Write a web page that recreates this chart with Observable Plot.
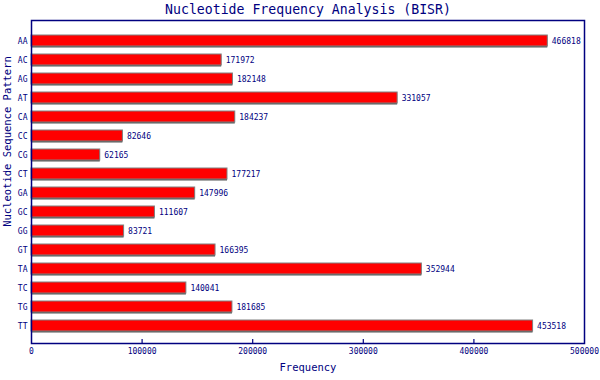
<!DOCTYPE html>
<html>
<head>
<meta charset="utf-8">
<script src="https://cdn.jsdelivr.net/npm/d3@7"></script>
<script src="https://cdn.jsdelivr.net/npm/@observablehq/plot@0.6"></script>
<style>
  html, body { margin: 0; padding: 0; background: #ffffff; }
</style>
</head>
<body>
<div id="chart"></div>
<script>
const patterns = ["AA","AC","AG","AT","CA","CC","CG","CT","GA","GC","GG","GT","TA","TC","TG","TT"];
const counts = [466818,171972,182148,331057,184237,82646,62165,177217,147996,111607,83721,166395,352944,140041,181685,453518];
const xTicks = [0,100000,200000,300000,400000,500000];
const innerTicks = [100000,200000,300000,400000];
const titleText = "Nucleotide Frequency Analysis (BISR)";
const xLabel = "Frequency";
const yLabel = "Nucleotide Sequence Pattern";

const data = patterns.map((p, i) => ({pattern: p, count: counts[i]}));
const navy = "#000080";
const mono = "'DejaVu Sans Mono', 'Liberation Mono', monospace";

const chart = Plot.plot({
  width: 600,
  height: 380,
  marginLeft: 31,
  marginRight: 16,
  marginTop: 20,
  marginBottom: 37,
  style: {fontFamily: mono, fontSize: "8px", color: navy, background: "#ffffff", overflow: "visible"},
  x: {domain: [0, 500000]},
  y: {domain: patterns, range: [34, 331], paddingInner: 0.43, paddingOuter: 0},
  marks: [
    Plot.barX(data, {x: "count", y: "pattern", fill: "#555555", dy: 1.5}),
    Plot.barX(data, {x: "count", y: "pattern", fill: "#ff0000", stroke: "#808080", strokeWidth: 1}),
    Plot.text(data, {x: "count", y: "pattern", text: d => String(d.count), textAnchor: "start", dx: 4, fill: navy, fontSize: 8}),
    Plot.frame({stroke: navy, strokeWidth: 1.5}),
    Plot.axisX({ticks: innerTicks, tickSize: -4, text: null, label: null, stroke: navy, strokeWidth: 1.2}),
    Plot.axisX({ticks: xTicks, tickSize: 0, tickPadding: 5, tickFormat: d => String(d), fill: navy, label: null, fontSize: 8}),
    Plot.axisY({tickSize: 0, tickPadding: 4, fill: navy, label: null, fontSize: 8}),
    Plot.text([titleText], {frameAnchor: "top", lineAnchor: "middle", dy: -11.2, fill: navy, fontSize: 13.2}),
    Plot.text([xLabel], {frameAnchor: "bottom", lineAnchor: "middle", dy: 24.6, fill: navy, fontSize: 10.5}),
    Plot.text([yLabel], {frameAnchor: "top-left", textAnchor: "middle", lineAnchor: "middle", dx: -24, dy: 121, rotate: -90, fill: navy, fontSize: 10.5})
  ]
});
document.getElementById("chart").appendChild(chart);
</script>
</body>
</html>
